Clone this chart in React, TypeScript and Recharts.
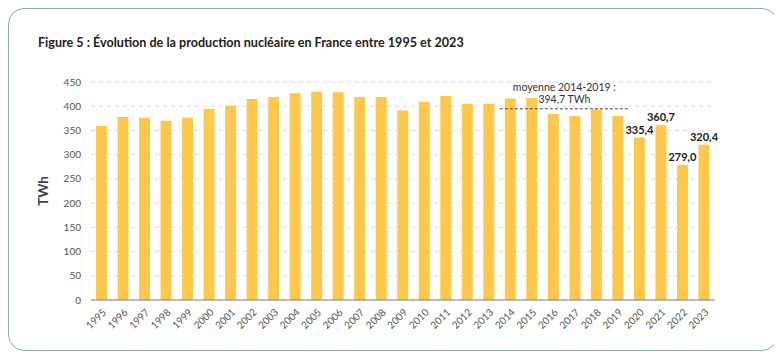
import { Bar, BarChart, CartesianGrid, LabelList, ReferenceLine, XAxis, YAxis } from 'recharts';

const years = ['1995', '1996', '1997', '1998', '1999', '2000', '2001', '2002', '2003', '2004', '2005', '2006', '2007', '2008', '2009', '2010', '2011', '2012', '2013', '2014', '2015', '2016', '2017', '2018', '2019', '2020', '2021', '2022', '2023'];
const production = [359, 378, 376, 370, 376, 395, 401, 415, 419, 427, 430, 429, 419, 419, 391, 409, 421, 405, 405, 416, 417, 384, 380, 393, 380, 335.4, 360.7, 279.0, 320.4];
const labelledYears = ['2020', '2021', '2022', '2023'];
const yTicks = [0, 50, 100, 150, 200, 250, 300, 350, 400, 450];
const meanValue = 394.7;
const meanFrom = '2014';
const meanTo = '2019';

const data = years.map((year, i) => ({
  year,
  value: production[i],
  label: labelledYears.includes(year) ? production[i].toFixed(1).replace('.', ',') : ''
}));

const FONT = 'Lato, "Open Sans", sans-serif';

// dashed average line spanning the full bands 2014..2019, with its two-line caption
const MeanLine = (props: any) => {
  const half = 10.75;
  const x1 = props.x1 - half;
  const x2 = props.x2 + half;
  const y = props.y1;
  const cx = (x1 + x2) / 2;
  return (
    <g>
      <line x1={x1} y1={y} x2={x2} y2={y} stroke="#444" strokeWidth={1} strokeDasharray="3 2" />
      <text x={cx} y={y - 18} textAnchor="middle" fontSize={10.5} fill="#333" fontFamily={FONT}>moyenne 2014-2019 :</text>
      <text x={cx} y={y - 6} textAnchor="middle" fontSize={10.5} fill="#333" fontFamily={FONT}>394,7 TWh</text>
    </g>
  );
};

export default function App() {
  return (
    <div
      style={{
        position: 'relative',
        width: 770,
        height: 343,
        boxSizing: 'border-box',
        border: '1px solid #8fabb8',
        borderRadius: 16,
        fontFamily: FONT
      }}
    >
      <div
        style={{
          position: 'absolute',
          left: 29,
          top: 26,
          fontSize: 12.6,
          fontWeight: 700,
          color: '#222',
          whiteSpace: 'nowrap'
        }}
      >
        Figure 5 : Évolution de la production nucléaire en France entre 1995 et 2023
      </div>
      <div style={{ position: 'absolute', left: -1, top: -1 }}>
        <BarChart width={770} height={343} data={data} margin={{ top: 74, right: 63, left: 33, bottom: 11 }}>
          <CartesianGrid strokeDasharray="4 4" vertical={false} stroke="#dcdcdc" />
          <XAxis
            dataKey="year"
            height={40}
            interval={0}
            tickLine={false}
            axisLine={{ stroke: '#7a828a' }}
            angle={-45}
            textAnchor="end"
            tick={{ fill: '#555', fontSize: 10, fontFamily: FONT }}
          />
          <YAxis
            width={50}
            domain={[0, 450]}
            ticks={yTicks}
            axisLine={false}
            tickLine={false}
            tickMargin={4}
            tick={{ fill: '#555', fontSize: 10, fontFamily: FONT }}
            label={{ value: 'TWh', angle: -90, position: 'insideLeft', offset: 2, style: { textAnchor: 'middle', fontWeight: 700, fontSize: 13.5, fill: '#3a4450', fontFamily: FONT } }}
          />
          <Bar dataKey="value" fill="#FFC84A" barSize={11} isAnimationActive={false}>
            <LabelList dataKey="label" position="top" offset={4} style={{ fontWeight: 700, fontSize: 11, fill: '#222', fontFamily: FONT }} />
          </Bar>
          <ReferenceLine
            segment={[{ x: meanFrom, y: meanValue }, { x: meanTo, y: meanValue }]}
            shape={MeanLine}
            ifOverflow="visible"
          />
        </BarChart>
      </div>
    </div>
  );
}
